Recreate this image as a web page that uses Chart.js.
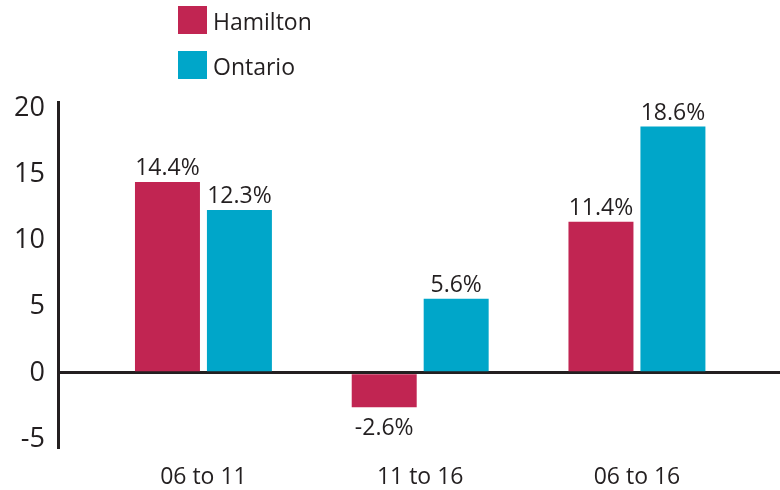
<!DOCTYPE html>
<html>
<head>
<meta charset="utf-8">
<script src="https://cdn.jsdelivr.net/npm/chart.js@4.4.0/dist/chart.umd.min.js"></script>
<style>
  html, body { margin: 0; padding: 0; background: #fff; }
  canvas { display: block; }
</style>
</head>
<body>
<canvas id="growthChart" width="780" height="490"></canvas>
<script>
// Chart data
const categories = ['06 to 11', '11 to 16', '06 to 16'];
const hamilton = [14.4, -2.6, 11.4];
const ontario = [12.3, 5.6, 18.6];
const yTicks = [-5, 0, 5, 10, 15, 20];

const INK = '#231f20';
const FONT = '"Open Sans", "Noto Sans", sans-serif';

// value labels above / below each bar
const valueLabels = {
    id: 'valueLabels',
    afterDatasetsDraw(chart) {
        const ctx = chart.ctx;
        ctx.save();
        ctx.font = '23px ' + FONT;
        ctx.fillStyle = INK;
        ctx.textAlign = 'center';
        ctx.textBaseline = 'alphabetic';
        chart.data.datasets.forEach((ds, i) => {
            chart.getDatasetMeta(i).data.forEach((bar, j) => {
                const v = ds.data[j].y;
                const y = v >= 0 ? bar.y - 7 : bar.y + 28;
                ctx.fillText(v.toFixed(1) + '%', bar.x, y);
            });
        });
        ctx.restore();
    }
};

// legend stacked at top left
const stackedLegend = {
    id: 'stackedLegend',
    afterDraw(chart) {
        const ctx = chart.ctx;
        ctx.save();
        ctx.font = '23px ' + FONT;
        ctx.textBaseline = 'alphabetic';
        chart.data.datasets.forEach((ds, i) => {
            const top = 6 + i * 45;
            ctx.fillStyle = ds.backgroundColor;
            ctx.fillRect(178, top, 29, 28);
            ctx.fillStyle = INK;
            ctx.fillText(ds.label, 213, top + 24);
        });
        ctx.restore();
    }
};

new Chart(document.getElementById('growthChart'), {
    type: 'bar',
    data: {
        datasets: [
            {
                label: 'Hamilton',
                data: hamilton.map((v, i) => ({ x: i, y: v })),
                backgroundColor: '#c12552'
            },
            {
                label: 'Ontario',
                data: ontario.map((v, i) => ({ x: i, y: v })),
                backgroundColor: '#00a6c9'
            }
        ]
    },
    options: {
        responsive: false,
        animation: false,
        layout: { padding: { top: 102, left: 0, right: 0, bottom: 0 } },
        categoryPercentage: 0.664,
        barPercentage: 0.903,
        plugins: {
            legend: { display: false },
            tooltip: { enabled: false }
        },
        scales: {
            x: {
                type: 'linear',
                offset: false,
                min: -0.671,
                max: 2.66,
                afterBuildTicks: (scale) => {
                    scale.ticks = categories.map((c, i) => ({ value: i }));
                },
                afterFit: (scale) => { scale.height = 43; },
                grid: { display: false },
                border: { display: false },
                ticks: {
                    padding: 9,
                    color: INK,
                    font: { family: FONT, size: 23 },
                    callback: (value) => categories[value] ?? ''
                }
            },
            y: {
                min: -5.6,
                max: 20.45,
                afterBuildTicks: (scale) => {
                    scale.ticks = yTicks.map(v => ({ value: v }));
                },
                afterFit: (scale) => { scale.width = 58; },
                grid: {
                    drawTicks: false,
                    lineWidth: 3,
                    color: (c) => (c.tick && c.tick.value === 0 ? INK : 'rgba(0,0,0,0)')
                },
                border: { display: true, color: INK, width: 3 },
                ticks: {
                    padding: 13,
                    color: INK,
                    font: { family: FONT, size: 27 }
                }
            }
        }
    },
    plugins: [valueLabels, stackedLegend]
});
</script>
</body>
</html>
